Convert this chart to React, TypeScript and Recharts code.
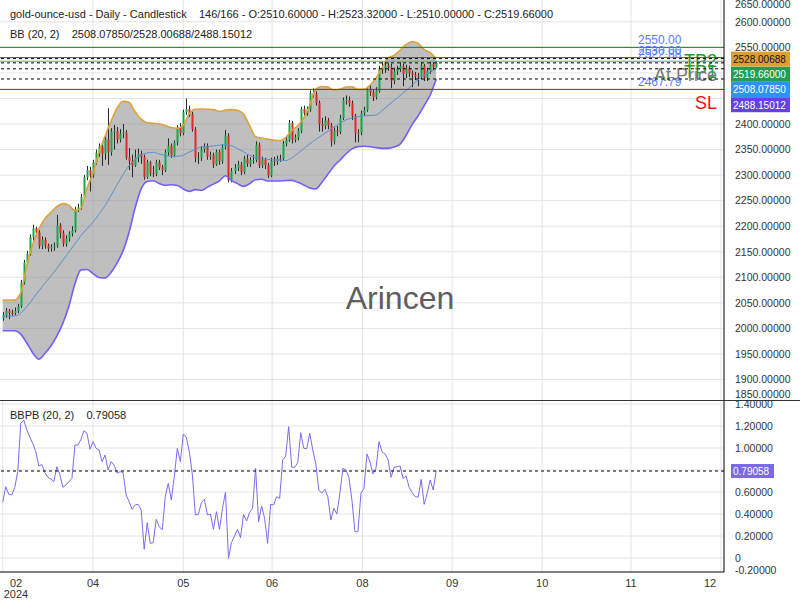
import React from "react";
import { ComposedChart, Bar, Line, Area, XAxis, YAxis, CartesianGrid, ReferenceLine } from "recharts";

const FONT = '"Liberation Sans", Arial, Helvetica, sans-serif';

// ---------- candle data (daily, index order) ----------
const candleOpen = [
  2020, 2025.8, 2034.4, 2030.3, 2029.9, 2034.0, 2042.7, 2089.6, 2129, 2146.4,
  2178.7, 2195.9, 2187.7, 2161.6, 2173.6, 2161.8, 2156.7, 2159.9, 2161.8, 2201.6,
  2186.7, 2165.9, 2176.5, 2185.7, 2191.6, 2233.7, 2237, 2257.5, 2295.9, 2310,
  2299.6, 2325, 2343.8, 2355.8, 2341.5, 2370.3, 2344.8, 2385.1, 2386, 2369.9,
  2381.2, 2383.8, 2334.4, 2327.2, 2319, 2334.8, 2341.5, 2336, 2296.3, 2324.7,
  2303.7, 2302.3, 2324.5, 2315.1, 2309.8, 2344.2, 2357.3, 2339.7, 2363.2, 2393.3,
  2382, 2422.9, 2429.4, 2419, 2389.6, 2333.9, 2334.1, 2350.5, 2356.8, 2336.2,
  2338.9, 2321.1, 2345.4, 2327.2, 2355.2, 2377.1, 2290, 2307.8, 2314.3, 2320.5,
  2306.1, 2332.3, 2322.3, 2329.4, 2329.5, 2359.3, 2319.4, 2329.5, 2319, 2299.2,
  2327.8, 2326.8, 2332.3, 2331.9, 2361.6, 2368.9, 2402.5, 2369.3, 2373.8, 2386.5,
  2429.6, 2421.3, 2428.4, 2460.5, 2457.7, 2441.3, 2400, 2396.5, 2406.7, 2396.9,
  2366.3, 2387.1, 2384.3, 2411.7, 2446.2, 2447, 2440.9, 2415.1, 2381.8, 2382.8,
  2421.3, 2427.4, 2466.1, 2462.2, 2452.6, 2465, 2509.6, 2506.5, 2514.1, 2511.5,
  2484.5, 2503.1, 2508.2, 2513.1, 2498.4, 2509.4, 2499.2, 2496.3, 2493.3, 2492.4,
  2514.3, 2490.4, 2503.9, 2516.8, 2510.6,
];
const candleHigh = [
  2032, 2040, 2038, 2037, 2041, 2048, 2095, 2134, 2152, 2184,
  2203, 2199, 2192, 2180, 2178, 2166, 2165, 2168, 2222, 2206,
  2192, 2182, 2190, 2200, 2238, 2244, 2263, 2300, 2318, 2316,
  2330, 2350, 2362, 2360, 2377, 2431, 2392, 2398, 2394, 2390,
  2400, 2388, 2353, 2340, 2350, 2352, 2348, 2340, 2330, 2328,
  2318, 2330, 2330, 2320, 2350, 2372, 2362, 2368, 2398, 2402,
  2428, 2450, 2436, 2424, 2394, 2345, 2356, 2362, 2362, 2346,
  2344, 2350, 2350, 2360, 2388, 2382, 2314, 2322, 2328, 2326,
  2338, 2340, 2335, 2340, 2366, 2364, 2336, 2334, 2324, 2334,
  2336, 2338, 2340, 2367, 2375, 2408, 2406, 2380, 2392, 2434,
  2436, 2434, 2466, 2470, 2464, 2446, 2412, 2415, 2412, 2402,
  2393, 2396, 2418, 2452, 2456, 2454, 2446, 2420, 2390, 2426,
  2434, 2472, 2476, 2468, 2472, 2514, 2522, 2522, 2520, 2518,
  2510, 2514, 2521, 2518, 2516, 2514, 2505, 2502, 2500, 2520,
  2518, 2510, 2522, 2520, 2523.32,
];
const candleLow = [
  2015, 2021, 2018, 2024, 2026, 2030, 2040, 2086, 2124, 2142,
  2172, 2180, 2156, 2155, 2156, 2150, 2150, 2152, 2158, 2176,
  2160, 2160, 2170, 2180, 2188, 2228, 2232, 2254, 2290, 2268,
  2295, 2320, 2336, 2318, 2330, 2320, 2338, 2350, 2362, 2364,
  2372, 2330, 2310, 2296, 2316, 2325, 2322, 2291, 2293, 2298,
  2296, 2298, 2310, 2300, 2306, 2338, 2334, 2335, 2358, 2376,
  2378, 2418, 2414, 2385, 2325, 2322, 2328, 2344, 2330, 2330,
  2314, 2318, 2320, 2322, 2350, 2286, 2286, 2302, 2308, 2300,
  2302, 2316, 2316, 2322, 2325, 2314, 2314, 2312, 2294, 2296,
  2318, 2320, 2326, 2328, 2356, 2365, 2362, 2364, 2368, 2382,
  2414, 2416, 2424, 2452, 2436, 2385, 2385, 2390, 2390, 2356,
  2360, 2376, 2380, 2408, 2438, 2434, 2408, 2364, 2364, 2378,
  2416, 2424, 2455, 2445, 2448, 2461, 2498, 2500, 2504, 2470,
  2478, 2496, 2502, 2474, 2490, 2492, 2472, 2486, 2474, 2488,
  2484, 2484, 2498, 2506, 2510.0,
];
const candleClose = [
  2025.8, 2034.4, 2030.3, 2029.9, 2034.0, 2042.7, 2089.6, 2129, 2146.4, 2178.7,
  2195.9, 2187.7, 2161.6, 2173.6, 2161.8, 2156.7, 2159.9, 2161.8, 2201.6, 2186.7,
  2165.9, 2176.5, 2185.7, 2191.6, 2233.7, 2237, 2257.5, 2295.9, 2310, 2299.6,
  2325, 2343.8, 2355.8, 2341.5, 2370.3, 2344.8, 2385.1, 2386, 2369.9, 2381.2,
  2383.8, 2334.4, 2327.2, 2319, 2334.8, 2341.5, 2336, 2296.3, 2324.7, 2303.7,
  2302.3, 2324.5, 2315.1, 2309.8, 2344.2, 2357.3, 2339.7, 2363.2, 2393.3, 2382,
  2422.9, 2429.4, 2419, 2389.6, 2333.9, 2334.1, 2350.5, 2356.8, 2336.2, 2338.9,
  2321.1, 2345.4, 2327.2, 2355.2, 2377.1, 2290, 2307.8, 2314.3, 2320.5, 2306.1,
  2332.3, 2322.3, 2329.4, 2329.5, 2359.3, 2319.4, 2329.5, 2319, 2299.2, 2327.8,
  2326.8, 2332.3, 2331.9, 2361.6, 2368.9, 2402.5, 2369.3, 2373.8, 2386.5, 2429.6,
  2421.3, 2428.4, 2460.5, 2457.7, 2441.3, 2400, 2396.5, 2406.7, 2396.9, 2366.3,
  2387.1, 2384.3, 2411.7, 2446.2, 2447, 2440.9, 2415.1, 2381.8, 2382.8, 2421.3,
  2427.4, 2466.1, 2462.2, 2452.6, 2465, 2509.6, 2506.5, 2514.1, 2511.5, 2484.5,
  2503.1, 2508.2, 2513.1, 2498.4, 2509.4, 2499.2, 2496.3, 2493.3, 2492.4, 2514.3,
  2490.4, 2503.9, 2516.8, 2511.5, 2519.66,
];

// ---------- Bollinger band (20, 2), read every second candle ----------
const bandIndex = [
  0, 2, 4, 6, 8, 10, 12, 14, 16, 18,
  20, 22, 24, 26, 28, 30, 32, 34, 36, 38,
  40, 42, 44, 46, 48, 50, 52, 54, 56, 58,
  60, 62, 64, 66, 68, 70, 72, 74, 76, 78,
  80, 82, 84, 86, 88, 90, 92, 94, 96, 98,
  100, 102, 104, 106, 108, 110, 112, 114, 116, 118,
  120, 122, 124, 126, 128, 130, 132, 134, 136, 138,
  140, 142, 144,
];
const bandUpper = [
  2055.6, 2055.6, 2055.6, 2069.5, 2122.5, 2165.4, 2194.3, 2214.9, 2227, 2238.2,
  2244.2, 2240.7, 2230.5, 2235.2, 2274.2, 2304.1, 2344.6, 2375.9, 2405.9, 2431.1,
  2444.4, 2442.1, 2423.9, 2409.6, 2402.5, 2401.4, 2400.2, 2397.1, 2393, 2391.6,
  2398, 2420.5, 2429, 2429.4, 2429, 2428.2, 2424.5, 2427.2, 2428.2, 2426.8,
  2419.4, 2397.1, 2375, 2372.6, 2370.4, 2368.5, 2367.3, 2373.6, 2387.1, 2396.5,
  2411.7, 2437.2, 2468.5, 2473.4, 2472.2, 2466.5, 2467.9, 2472.4, 2473, 2467.7,
  2467.7, 2475.9, 2489.8, 2509.8, 2529.4, 2534.2, 2544.8, 2555.6, 2561.5, 2557.5,
  2545.8, 2539.5, 2528.00688,
];
const bandMiddle = [
  2024.3, 2024.3, 2024.3, 2029.9, 2042.7, 2057.7, 2073.2, 2088.4, 2102.3, 2117.4,
  2133.5, 2149.5, 2165.7, 2181.6, 2194.9, 2208.2, 2224.1, 2240.3, 2260.3, 2281.6,
  2301.2, 2318.4, 2330.7, 2339.5, 2343.4, 2344.6, 2341.5, 2338.4, 2337, 2336.8,
  2339.3, 2345.2, 2350.5, 2355.6, 2356.2, 2356.9, 2358.9, 2359.5, 2357.5, 2352.2,
  2345.6, 2338.9, 2334.2, 2332.5, 2330.7, 2329.9, 2329.2, 2328.4, 2333.7, 2342.3,
  2351.7, 2361.1, 2369.7, 2377.7, 2385.9, 2394.1, 2401.2, 2408.2, 2411.7, 2414.7,
  2416, 2416.8, 2417.6, 2426.2, 2436, 2445.8, 2455.6, 2465.4, 2476.3, 2486.7,
  2495.5, 2501.2, 2508.0785,
];
const bandLower = [
  1995.5, 1995.5, 1995.5, 1988.8, 1971.4, 1951.8, 1939.7, 1950.9, 1965.5, 1985.3,
  2010.4, 2044, 2087.5, 2114.5, 2115.3, 2107.2, 2099.6, 2098.6, 2109.6, 2128.2,
  2152.2, 2188.6, 2236.4, 2273.2, 2287.3, 2289, 2283.4, 2280, 2281, 2279.8,
  2273, 2268.1, 2271.6, 2269.9, 2276.5, 2282.4, 2288.8, 2298.8, 2289.2, 2283.4,
  2277.9, 2283.2, 2291, 2291.8, 2288.6, 2288.5, 2288.5, 2289.6, 2289.8, 2285.9,
  2280.8, 2274.9, 2273, 2285.7, 2301.6, 2317.4, 2329.2, 2341.3, 2351.3, 2355.8,
  2356.4, 2355.6, 2353.8, 2352.4, 2352.4, 2355, 2360.5, 2377.5, 2398.8, 2416.2,
  2436, 2456.8, 2488.15012,
];

// ---------- BBPB (20, 2) ----------
const bbpbValues = [
  0.506, 0.648, 0.58, 0.573, 0.643, 0.785, 1.224, 1.255, 1.164, 1.10,
  1.04, 0.966, 0.836, 0.85, 0.776, 0.733, 0.718, 0.694, 0.83, 0.755,
  0.643, 0.664, 0.694, 0.724, 1.027, 1.027, 1.079, 1.157, 1.133, 0.988,
  1.057, 0.997, 0.982, 0.876, 0.936, 0.8, 0.876, 0.845, 0.77, 0.785,
  0.776, 0.573, 0.512, 0.442, 0.482, 0.488, 0.436, 0.079, 0.321, 0.133,
  0.139, 0.352, 0.285, 0.255, 0.558, 0.679, 0.527, 0.739, 0.997, 0.876,
  1.127, 1.097, 0.966, 0.755, 0.391, 0.397, 0.503, 0.533, 0.391, 0.4,
  0.261, 0.421, 0.261, 0.452, 0.597, -0.003, 0.139, 0.2, 0.261, 0.185,
  0.397, 0.336, 0.412, 0.452, 0.815, 0.33, 0.473, 0.361, 0.133, 0.488,
  0.482, 0.558, 0.542, 0.891, 0.927, 1.194, 0.824, 0.824, 0.867, 1.139,
  0.997, 0.994, 1.133, 0.982, 0.855, 0.618, 0.588, 0.624, 0.558, 0.345,
  0.452, 0.4, 0.588, 0.815, 0.8, 0.733, 0.527, 0.239, 0.239, 0.588,
  0.633, 0.945, 0.876, 0.764, 0.815, 1.057, 0.966, 0.945, 0.897, 0.733,
  0.824, 0.83, 0.836, 0.724, 0.745, 0.643, 0.594, 0.558, 0.552, 0.715,
  0.488, 0.588, 0.709, 0.618, 0.79058,
];

// ---------- axes ----------
const monthTicks = [0, 30, 60, 89.5, 119.5, 149.3, 179.2, 208.7, 238.6];
const monthLabels = ["02", "04", "05", "06", "08", "09", "10", "11", "12"];
const yearLabel = "2024";
const priceTicks = [1850, 1900, 1950, 2000, 2050, 2100, 2150, 2200, 2250, 2300, 2350, 2400, 2550, 2600, 2650];
const priceGrid = [1900, 1950, 2000, 2050, 2100, 2150, 2200, 2250, 2300, 2350, 2400, 2450, 2500, 2550, 2600];
const bbpbTicks = [-0.2, 0, 0.2, 0.4, 0.6, 1.0, 1.2, 1.4];
const bbpbGrid = [0, 0.2, 0.4, 0.6, 0.8, 1.0, 1.2, 1.4];

// ---------- trade levels ----------
const levelNames = ["TP2", "TP1", "At Price", "SL"];
const levelPrices = [2550, 2530, 2522.88, 2467.79];
const levelLineColors = ["#1b7a1b", "#1b7a1b", "#8c8c8c", "#e00000"];
const levelTextColors = ["#2b9a2b", "#2b9a2b", "#7a7a7a", "#f01010"];

// ---------- last values ----------
const lastLabels = ["BB upper", "Close", "BB middle", "BB lower"];
const lastValues = [2528.00688, 2519.66, 2508.0785, 2488.15012];
const lastBg = ["#dca032", "#1ea050", "#2b95f5", "#6440f0"];
const lastFg = ["#111111", "#ffffff", "#ffffff", "#ffffff"];
const bbpbLast = 0.79058;

const candles = candleClose.map((c, i) => ({
  i,
  open: candleOpen[i],
  high: candleHigh[i],
  low: candleLow[i],
  close: c,
}));
const band = bandIndex.map((i, k) => ({ i, upper: bandUpper[k], mid: bandMiddle[k], lower: bandLower[k] }));
const bbpbData = bbpbValues.map((v, i) => ({ i, v }));

const Candle = (props: any) => {
  const { x, y, width, height, payload } = props;
  if (!payload || x == null) return null;
  let top = y;
  let h = height;
  if (h < 0) {
    top = y + h;
    h = -h;
  }
  const { open, close, high, low } = payload;
  const range = high - low || 1;
  const yOf = (v: number) => top + ((high - v) / range) * h;
  const yo = yOf(open);
  const yc = yOf(close);
  const up = close >= open;
  const cx = Math.round(x + width / 2) + 0.5;
  const bt = Math.min(yo, yc);
  const bh = Math.max(Math.abs(yc - yo), 1);
  return (
    <g>
      <line x1={cx} x2={cx} y1={top} y2={top + h} stroke="#2a2a2a" strokeWidth={1} />
      <rect x={cx - 1} y={bt} width={2} height={bh} fill={up ? "#14a84a" : "#e02828"} />
    </g>
  );
};

const PriceTick = (props: any) => {
  const { y, payload } = props;
  const yy = Math.min(Math.max(y, 4), 394);
  return (
    <text x={735} y={yy} dy={3.8} fontSize={10.5} fill="#333" fontFamily={FONT}>
      {Number(payload.value).toFixed(5)}
    </text>
  );
};

const BbpbTick = (props: any) => {
  const { y, payload } = props;
  const yy = Math.min(Math.max(y, 4), 170);
  const v = Number(payload.value);
  return (
    <text x={735} y={yy} dy={3.8} fontSize={10.5} fill="#333" fontFamily={FONT}>
      {Math.abs(v) < 1e-9 ? "0" : v.toFixed(5)}
    </text>
  );
};

const MonthTick = (props: any) => {
  const { x, y, payload } = props;
  const k = monthTicks.indexOf(payload.value);
  const tx = Math.min(Math.max(x, 16), 710);
  return (
    <g>
      <text x={tx} y={y} dy={7} textAnchor="middle" fontSize={11} fill="#333" fontFamily={FONT}>
        {monthLabels[k]}
      </text>
      {k === 0 ? (
        <text x={tx} y={y} dy={18} textAnchor="middle" fontSize={11} fill="#333" fontFamily={FONT}>
          {yearLabel}
        </text>
      ) : null}
    </g>
  );
};

const LevelLabel = (props: any) => {
  const { viewBox, idx } = props;
  if (!viewBox) return null;
  const right = viewBox.x + viewBox.width;
  const y = viewBox.y;
  return (
    <g>
      <text x={right - 86} y={y - 3} fontSize={12} fill="#5a7dff" fontFamily={FONT}>
        {levelPrices[idx].toFixed(2)}
      </text>
      <text x={right - 7} y={y + 20} fontSize={18} fill={levelTextColors[idx]} textAnchor="end" fontFamily={FONT}>
        {levelNames[idx]}
      </text>
    </g>
  );
};

const TagStack = (props: any) => {
  const { viewBox } = props;
  if (!viewBox) return null;
  const x0 = viewBox.x + viewBox.width + 7;
  const y0 = viewBox.y - 7;
  return (
    <g>
      {lastValues.map((v, k) => (
        <g key={lastLabels[k]}>
          <rect x={x0} y={y0 + k * 15.2} width={59} height={15} fill={lastBg[k]} />
          <text x={x0 + 2} y={y0 + k * 15.2 + 11.3} fontSize={10} fill={lastFg[k]} fontFamily={FONT}>
            {v.toFixed(5)}
          </text>
        </g>
      ))}
    </g>
  );
};

const BbpbTag = (props: any) => {
  const { viewBox } = props;
  if (!viewBox) return null;
  const x0 = viewBox.x + viewBox.width + 7;
  const y0 = viewBox.y - 7;
  return (
    <g>
      <rect x={x0} y={y0} width={43} height={14} fill="#7b68ee" />
      <text x={x0 + 2} y={y0 + 10.8} fontSize={10} fill="#ffffff" fontFamily={FONT}>
        {bbpbLast.toFixed(5)}
      </text>
    </g>
  );
};

const X_DOMAIN: [number, number] = [-0.9, 239.6];

export default function App() {
  return (
    <div style={{ position: "absolute", left: 0, top: 0, width: 800, height: 600, background: "#fff", overflow: "hidden", fontFamily: FONT }}>
      <div style={{ position: "absolute", left: 0, top: 0 }}>
        <ComposedChart width={800} height={400} data={candles} margin={{ top: 0, right: 0, bottom: 0, left: 0 }}>
          <CartesianGrid stroke="#e4e4e4" horizontalValues={priceGrid} verticalValues={monthTicks} />
          <XAxis dataKey="i" type="number" domain={X_DOMAIN} ticks={monthTicks} hide allowDataOverflow />
          <YAxis
            orientation="right"
            type="number"
            domain={[1859.9, 2642.7]}
            ticks={priceTicks}
            interval={0}
            tick={<PriceTick />}
            tickLine={false}
            axisLine={{ stroke: "#000" }}
            width={76}
            allowDataOverflow
          />
          <Bar dataKey={(d: any) => [d.low, d.high]} shape={<Candle />} barSize={3} isAnimationActive={false} />
          <Area
            data={band}
            dataKey={(d: any) => [d.lower, d.upper]}
            type="monotone"
            stroke="none"
            fill="#7f7f7f"
            fillOpacity={0.5}
            dot={false}
            activeDot={false}
            isAnimationActive={false}
          />
          <Line data={band} dataKey="upper" type="monotone" stroke="#e0a238" strokeWidth={1.6} dot={false} activeDot={false} isAnimationActive={false} />
          <Line data={band} dataKey="lower" type="monotone" stroke="#7a5cf5" strokeWidth={1.6} dot={false} activeDot={false} isAnimationActive={false} />
          <Line data={band} dataKey="mid" type="monotone" stroke="#5a8fd0" strokeWidth={1} dot={false} activeDot={false} isAnimationActive={false} />
          {levelPrices.map((p, k) => (
            <ReferenceLine key={levelNames[k]} y={p} stroke={levelLineColors[k]} strokeWidth={1} label={<LevelLabel idx={k} />} />
          ))}
          {lastValues.map((v, k) => (
            <ReferenceLine
              key={lastLabels[k]}
              y={v}
              stroke="#000"
              strokeDasharray="3 3"
              strokeWidth={1}
              label={k === 0 ? <TagStack /> : undefined}
            />
          ))}
        </ComposedChart>
      </div>
      <div style={{ position: "absolute", left: 0, top: 400 }}>
        <ComposedChart width={800} height={200} data={bbpbData} margin={{ top: 0, right: 0, bottom: 0, left: 0 }}>
          <CartesianGrid stroke="#e4e4e4" horizontalValues={bbpbGrid} verticalValues={monthTicks} />
          <XAxis
            dataKey="i"
            type="number"
            domain={X_DOMAIN}
            ticks={monthTicks}
            interval={0}
            tick={<MonthTick />}
            tickLine={false}
            axisLine={{ stroke: "#000" }}
            height={28}
            allowDataOverflow
          />
          <YAxis
            orientation="right"
            type="number"
            domain={[-0.127, 1.436]}
            ticks={bbpbTicks}
            interval={0}
            tick={<BbpbTick />}
            tickLine={false}
            axisLine={{ stroke: "#000" }}
            width={76}
            allowDataOverflow
          />
          <Line dataKey="v" type="linear" stroke="#7b6cf0" strokeWidth={1} dot={false} activeDot={false} isAnimationActive={false} />
          <ReferenceLine y={bbpbLast} stroke="#000" strokeDasharray="3 3" label={<BbpbTag />} />
        </ComposedChart>
      </div>
      <div style={{ position: "absolute", left: 0, top: 400, width: 800, height: 1, background: "#333" }} />
      <div style={{ position: "absolute", left: 10, top: 7, fontSize: 11, lineHeight: "14px", color: "#222", whiteSpace: "pre" }}>
        {"gold-ounce-usd - Daily - Candlestick    146/166 - O:2510.60000 - H:2523.32000 - L:2510.00000 - C:2519.66000"}
      </div>
      <div style={{ position: "absolute", left: 10, top: 27, fontSize: 11, lineHeight: "14px", color: "#222", whiteSpace: "pre" }}>
        {"BB (20, 2)    2508.07850/2528.00688/2488.15012"}
      </div>
      <div style={{ position: "absolute", left: 10, top: 408, fontSize: 11, lineHeight: "14px", color: "#222", whiteSpace: "pre" }}>
        {"BBPB (20, 2)    0.79058"}
      </div>
      <div style={{ position: "absolute", left: 0, top: 279, width: 800, textAlign: "center", fontSize: 32, lineHeight: "38px", color: "#5e5e5e" }}>
        Arincen
      </div>
    </div>
  );
}
